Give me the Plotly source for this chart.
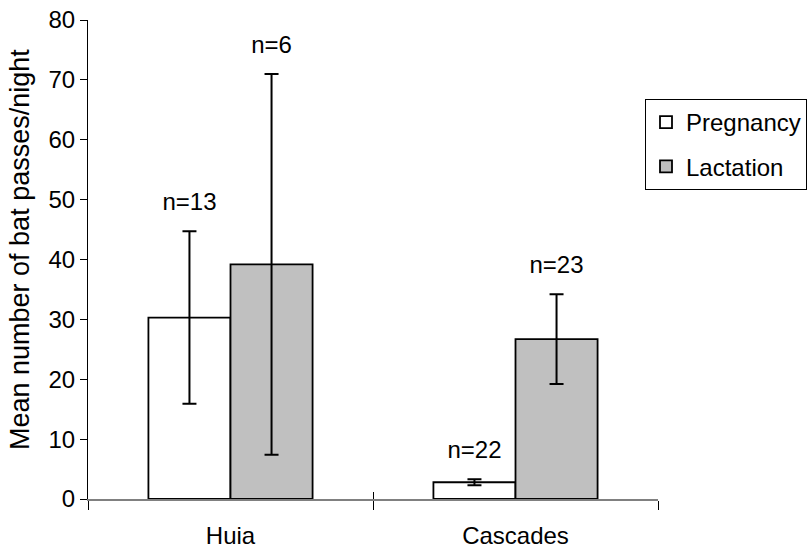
import plotly.graph_objects as go

# Mean bat passes per night by site and reproductive period (mean ± SE)
sites = ["Huia", "Cascades"]
pregnancy_mean = [30.3, 2.8]
pregnancy_err = [14.4, 0.5]
pregnancy_n = ["n=13", "n=22"]
lactation_mean = [39.2, 26.7]
lactation_err = [31.8, 7.5]
lactation_n = ["n=6", "n=23"]
y_title = "Mean number of bat passes/night"

FONT = "Liberation Sans, Arial, sans-serif"
FS = 24
LABEL_PAD = 4.5  # sample-size label sits this far (in data units) above the error bar
GAP = 0.424

fig = go.Figure()

series = [
    ("Pregnancy", pregnancy_mean, pregnancy_err, pregnancy_n, "white", "preg"),
    ("Lactation", lactation_mean, lactation_err, lactation_n, "#C0C0C0", "lact"),
]

for name, mean, err, nlab, color, grp in series:
    fig.add_trace(go.Bar(
        name=name, x=sites, y=mean, offsetgroup=grp, legendgroup=grp,
        marker=dict(color=color, line=dict(color="black", width=1.8)),
        error_y=dict(type="data", array=err, visible=True,
                     color="black", thickness=2, width=7),
        hoverinfo="skip",
    ))

for name, mean, err, nlab, color, grp in series:
    fig.add_trace(go.Scatter(
        x=sites, y=[m + e + LABEL_PAD for m, e in zip(mean, err)],
        mode="text", text=nlab, textposition="middle center",
        textfont=dict(family=FONT, size=FS, color="black"),
        offsetgroup=grp, showlegend=False, hoverinfo="skip",
    ))

# invisible trace on the overlay x axis so its category ticks are drawn
fig.add_trace(go.Scatter(x=sites, y=[0, 0], xaxis="x2", mode="markers",
                         marker=dict(opacity=0), showlegend=False,
                         hoverinfo="skip"))

fig.update_layout(
    width=809, height=552,
    margin=dict(l=88, r=151, t=20, b=53, autoexpand=False),
    paper_bgcolor="white", plot_bgcolor="white",
    font=dict(family=FONT, size=FS, color="black"),
    barmode="group", bargap=GAP, bargroupgap=0,
    scattermode="group", scattergap=GAP,
    showlegend=True,
    legend=dict(
        x=(645 - 88) / 570, xanchor="left", y=(499 - 99) / 479, yanchor="top",
        bordercolor="black", borderwidth=1, bgcolor="white",
        font=dict(family=FONT, size=FS), tracegroupgap=10,
    ),
    xaxis=dict(
        type="category", range=[-0.5, 1.5], tickson="boundaries",
        ticks="outside", ticklen=9, tickwidth=1, tickcolor="black",
        ticklabelstandoff=14,
        showline=True, linecolor="#808080", linewidth=2,
        showgrid=False, zeroline=False, fixedrange=True,
    ),
    xaxis2=dict(
        type="category", overlaying="x", range=[-0.5, 1.5], tickson="boundaries",
        ticks="inside", ticklen=7, tickwidth=1, tickcolor="black",
        showticklabels=False, showline=False, showgrid=False, zeroline=False,
        side="bottom", anchor="y",
    ),
    yaxis=dict(
        range=[0, 80], dtick=10, tick0=0,
        ticks="outside", ticklen=7, tickwidth=1, tickcolor="black",
        showline=True, linecolor="black", linewidth=1,
        showgrid=False, zeroline=False,
    ),
    yaxis2=dict(
        range=[0, 80], dtick=10, tick0=0, overlaying="y", side="left",
        ticks="inside", ticklen=7, tickwidth=1, tickcolor="black",
        showticklabels=False, showline=False, showgrid=False, zeroline=False,
    ),
    annotations=[dict(
        text=y_title, textangle=-90, showarrow=False,
        xref="paper", yref="paper", x=0, xanchor="center",
        xshift=-68, y=(499 - 250) / 479, yanchor="middle",
        font=dict(family=FONT, size=27, color="black"),
    )],
)

fig.write_html("out.html")
